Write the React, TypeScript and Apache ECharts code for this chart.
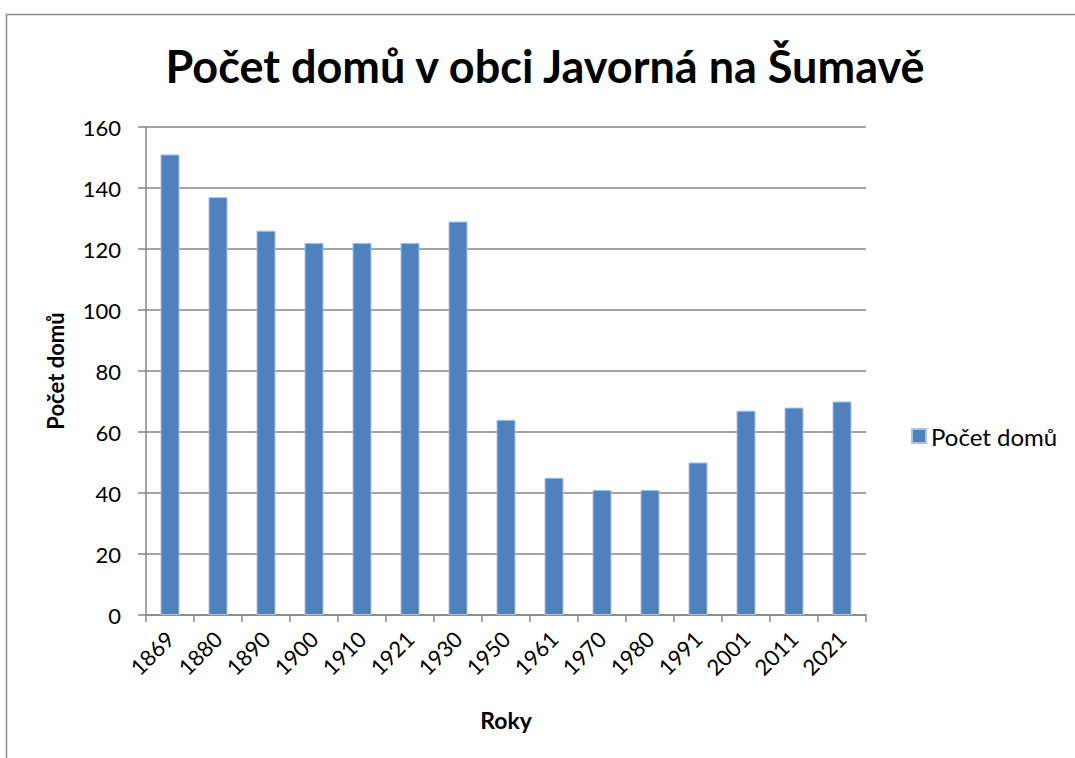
import React, { useEffect, useRef } from "react";
import * as echarts from "echarts";

const categories = ["1869", "1880", "1890", "1900", "1910", "1921", "1930", "1950", "1961", "1970", "1980", "1991", "2001", "2011", "2021"];
const values = [151, 137, 126, 122, 122, 122, 129, 64, 45, 41, 41, 50, 67, 68, 70];
const seriesName = "Počet domů";
const titleText = "Počet domů v obci Javorná na Šumavě";
const yTicks = { min: 0, max: 160, interval: 20 };

export default function App() {
  const ref = useRef<HTMLDivElement>(null);
  useEffect(() => {
    const chart = echarts.init(ref.current!, undefined, { renderer: "svg" });
    const font = "Lato, 'Open Sans', sans-serif";
    chart.setOption({
      animation: false,
      backgroundColor: "#ffffff",
      textStyle: { fontFamily: font },
      title: {
        text: titleText,
        left: 540,
        textAlign: "center",
        top: 38,
        textStyle: { fontFamily: font, fontSize: 45, fontWeight: "bold", color: "#000" },
      },
      graphic: [
        {
          type: "rect",
          shape: { x: 6.5, y: 14.5, width: 1100, height: 800 },
          style: { fill: "none", stroke: "#8c8c8c", lineWidth: 1.5 },
          silent: true,
        },
      ],
      legend: {
        data: [seriesName],
        left: 906,
        top: 419,
        itemWidth: 14,
        itemHeight: 14,
        itemGap: 6,
        textStyle: { fontFamily: font, fontSize: 24, color: "#000" },
        icon: "rect",
      },
      grid: { left: 146, right: 209, top: 127, bottom: 143, containLabel: false },
      xAxis: {
        type: "category",
        data: categories,
        name: "Roky",
        nameLocation: "middle",
        nameGap: 93,
        nameTextStyle: { fontFamily: font, fontSize: 23, fontWeight: "bold", color: "#000" },
        axisLine: { lineStyle: { color: "#868686", width: 1.5 } },
        axisTick: { show: true, length: 7, lineStyle: { color: "#868686", width: 1.5 } },
        axisLabel: { rotate: 45, fontFamily: font, fontSize: 22, color: "#000", margin: 20, interval: 0 },
      },
      yAxis: {
        type: "value",
        min: yTicks.min,
        max: yTicks.max,
        interval: yTicks.interval,
        name: seriesName,
        nameLocation: "middle",
        nameGap: 80,
        nameTextStyle: { fontFamily: font, fontSize: 22, fontWeight: "bold", color: "#000" },
        axisLine: { show: true, lineStyle: { color: "#868686", width: 1.5 } },
        axisTick: { show: true, length: 8, lineStyle: { color: "#868686", width: 1.5 } },
        axisLabel: { fontFamily: font, fontSize: 22, color: "#000", margin: 25 },
        splitLine: { lineStyle: { color: "#868686", width: 1.5 } },
      },
      series: [
        {
          name: seriesName,
          type: "bar",
          data: values,
          barWidth: 19,
          itemStyle: { color: "#4F81BD", borderColor: "#a9c1e2", borderWidth: 1 },
        },
      ],
    });
    return () => chart.dispose();
  }, []);
  return <div ref={ref} style={{ position: "fixed", left: 0, top: 0, width: 1075, height: 758 }} />;
}
